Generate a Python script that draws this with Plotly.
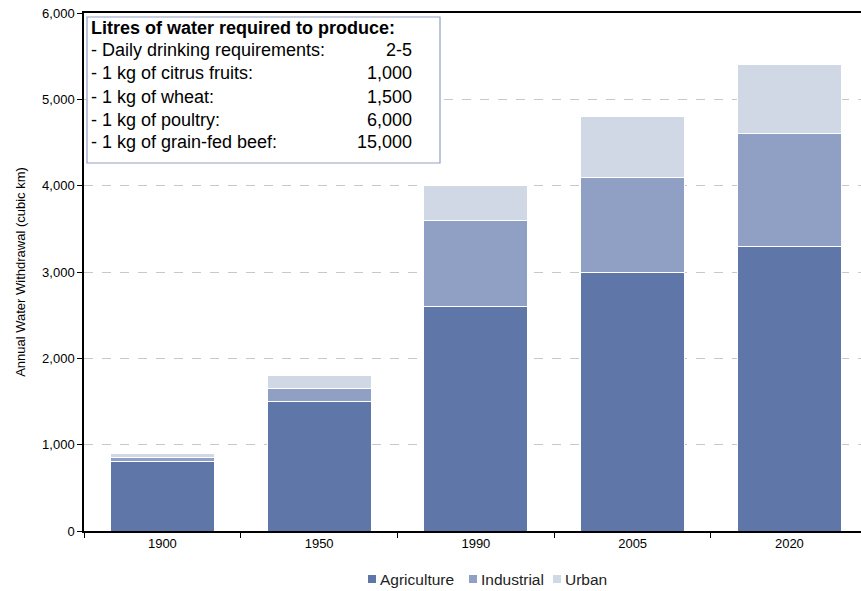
import plotly.graph_objects as go

# Annual water withdrawal by sector (cubic km)
years = ["1900", "1950", "1990", "2005", "2020"]
agriculture = [800, 1500, 2600, 3000, 3300]
industrial = [50, 150, 1000, 1100, 1300]
urban = [50, 150, 400, 700, 800]

series_names = ["Agriculture", "Industrial", "Urban"]
series_colors = ["#5E76A8", "#8FA0C4", "#D0D8E6"]

# Inset table: litres of water required per item
box_title = "Litres of water required to produce:"
items = [
    "- Daily drinking requirements:",
    "- 1 kg of citrus fruits:",
    "- 1 kg of wheat:",
    "- 1 kg of poultry:",
    "- 1 kg of grain-fed beef:",
]
litres = ["2-5", "1,000", "1,500", "6,000", "15,000"]

y_ticks = [0, 1000, 2000, 3000, 4000, 5000, 6000]
y_tick_labels = ["0", "1,000", "2,000", "3,000", "4,000", "5,000", "6,000"]

fig = go.Figure()
for name, vals, col in zip(series_names, [agriculture, industrial, urban], series_colors):
    fig.add_trace(go.Bar(
        x=years, y=vals, name=name,
        marker=dict(color=col, line=dict(color="white", width=1)),
    ))

# Plot-area geometry in pixels, used to place the inset table and legend
W, H = 861, 591
ml, mr, mt, mb = 84, 0, 13, 60
pw, ph = W - ml - mr, H - mt - mb


def px(x):
    return (x - ml) / pw


def py(y):
    return (H - mb - y) / ph


font_family = "Arial, Liberation Sans, sans-serif"
box_font = dict(family=font_family, size=18, color="black")
annotations = [dict(
    x=px(89), y=py(28), xref="paper", yref="paper", text="<b>" + box_title + "</b>",
    showarrow=False, xanchor="left", yanchor="middle", font=box_font,
)]
line_y = [50, 73, 97, 120, 142]
for label, val, yy in zip(items, litres, line_y):
    annotations.append(dict(
        x=px(89), y=py(yy), xref="paper", yref="paper", text=label,
        showarrow=False, xanchor="left", yanchor="middle", font=box_font,
    ))
    annotations.append(dict(
        x=px(414), y=py(yy), xref="paper", yref="paper", text=val,
        showarrow=False, xanchor="right", yanchor="middle", font=box_font,
    ))

shapes = [dict(
    type="rect", xref="paper", yref="paper",
    x0=px(87), x1=px(440), y0=py(163), y1=py(17),
    line=dict(color="#8FA0C4", width=1.2), fillcolor="white", layer="above",
)]

# Compact legend row under the axis: swatch + label per series
legend_x = [368, 469, 553]
legend_y = 579
for name, col, lx in zip(series_names, series_colors, legend_x):
    shapes.append(dict(
        type="rect", xref="paper", yref="paper",
        x0=px(lx), x1=px(lx + 8), y0=py(legend_y + 4), y1=py(legend_y - 4),
        line=dict(width=0), fillcolor=col,
    ))
    annotations.append(dict(
        x=px(lx + 10), y=py(legend_y), xref="paper", yref="paper", text=name,
        showarrow=False, xanchor="left", yanchor="middle",
        font=dict(family=font_family, size=15.5, color="#222"),
    ))

# Category spacing spans slightly past the right edge of the page
x_range = [-0.5, 4.457]

fig.update_layout(
    width=W, height=H,
    margin=dict(l=ml, r=mr, t=mt, b=mb, autoexpand=False),
    barmode="stack",
    bargap=0.337,
    showlegend=False,
    plot_bgcolor="white",
    paper_bgcolor="white",
    font=dict(family=font_family, size=12, color="black"),
    xaxis=dict(
        type="category", range=x_range, showline=True, linecolor="black", linewidth=1.5,
        mirror=True, ticks="outside", tickson="boundaries", ticklen=5,
        tickcolor="black", tickfont=dict(size=13),
    ),
    yaxis=dict(
        range=[0, 6000], tickvals=y_ticks, ticktext=y_tick_labels,
        showline=True, linecolor="black", linewidth=1.5, ticks="outside",
        ticklen=5, tickcolor="black", showgrid=True, gridcolor="#C8C8C8",
        griddash="dash", gridwidth=1, zeroline=False,
        tickfont=dict(size=13),
        title=dict(text="Annual Water Withdrawal (cubic km)", font=dict(size=13), standoff=14),
    ),
    shapes=shapes,
    annotations=annotations,
)

fig.write_html("out.html")
